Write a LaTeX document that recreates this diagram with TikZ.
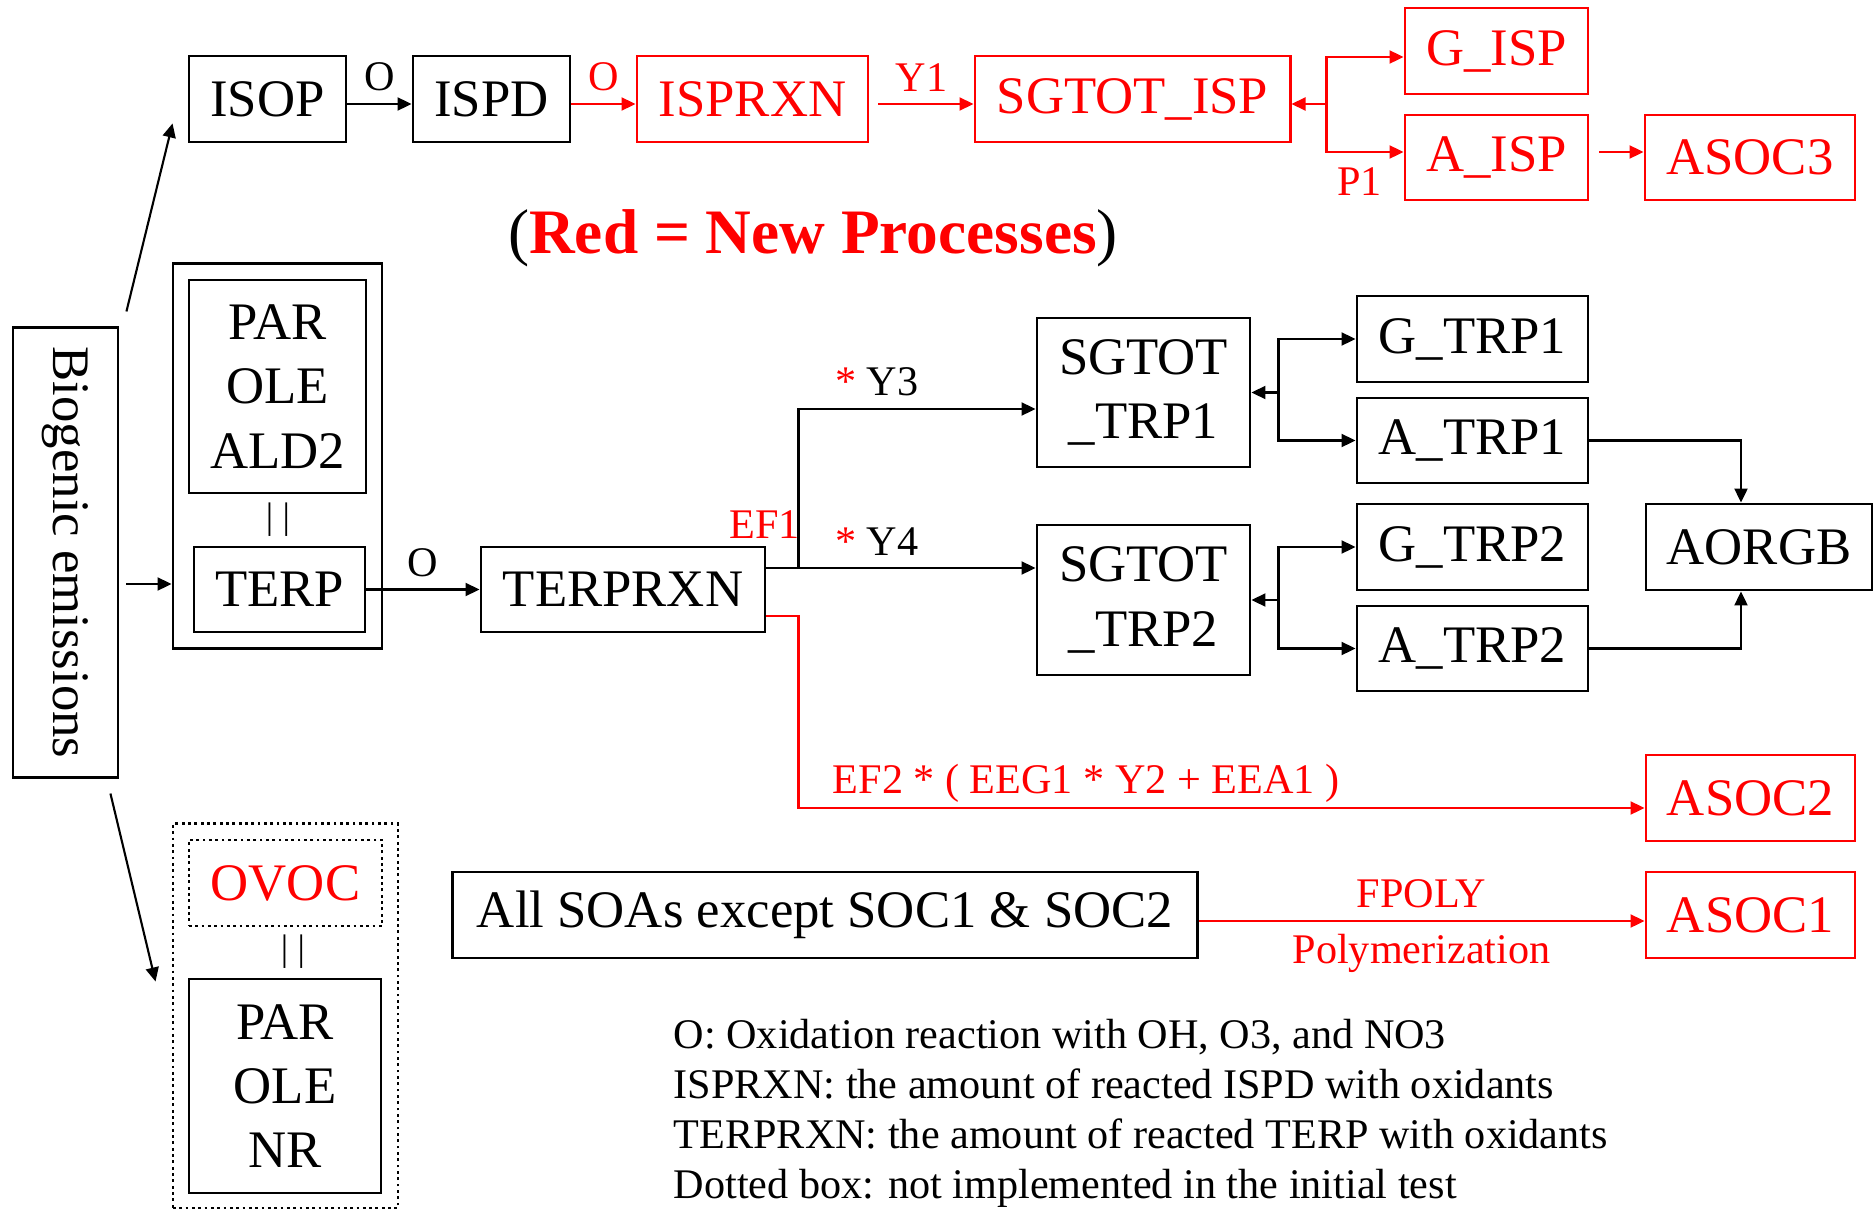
\documentclass[tikz,border=0pt]{standalone}
\usepackage{fontspec}
\setmainfont{Liberation Serif}
\usepackage{tikz}
\usepackage{xcolor}
\usetikzlibrary{calc}
\usetikzlibrary{arrows.meta}

\begin{document}
\begin{tikzpicture}[x=0.01cm, y=-0.01cm]

\tikzset{
    box/.style = {
    draw, line width=0.8pt, inner sep=0pt,
    align=center, font=\fontsize{15}{18.3}\selectfont
    }
}

\tikzstyle{oldbox}=[box, black]
\tikzstyle{newbox}=[box, draw=red, text=red]
\tikzstyle{planbox}=[box, densely dotted]
\tikzstyle{link}=[-{Triangle[length=0.14cm, width=0.13cm]}, line width=0.6pt]
\tikzstyle{newlink}=[link, red]
\tikzstyle{lbl}=[font=\fontsize{12}{14}\selectfont]

\useasboundingbox (0,0) rectangle (1875,1209);

% isoprene row
\node (n-isop) [oldbox, minimum width=1.57cm, minimum height=0.86cm] at (267.5,99) {ISOP};
\node (n-ispd) [oldbox, minimum width=1.57cm, minimum height=0.86cm] at (491.5,99) {ISPD};
\node (n-isprxn) [newbox, minimum width=2.31cm, minimum height=0.86cm] at (752.5,99) {ISPRXN};
\node (n-sgisp) [newbox, minimum width=3.15cm, minimum height=0.86cm] at (1132.5,99) {SGTOT\_ISP};
\node (n-gisp) [newbox, minimum width=1.83cm, minimum height=0.86cm] at (1496.5,51) {G\_ISP};
\node (n-aisp) [newbox, minimum width=1.83cm, minimum height=0.85cm] at (1496.5,157.5) {A\_ISP};
\node (n-asoc3) [newbox, minimum width=2.10cm, minimum height=0.85cm] at (1750,157.5) {ASOC3};

\node (n-title) at (813,238) {\fontsize{18}{22}\selectfont (\textcolor{red}{\textbf{Red = New Processes}})};

% emissions and terpene
\node (n-bio) [oldbox, minimum width=1.05cm, minimum height=4.49cm] at (65.5,552.5) {\rotatebox{-90}{Biogenic emissions}};
\node (n-grpterp) [oldbox, minimum width=2.09cm, minimum height=3.84cm] at (277.5,456) {};
\node (n-parole) [oldbox, minimum width=1.77cm, minimum height=2.13cm] at (277.5,386.5) {PAR\\OLE\\ALD2};
\node (n-eqterp) [font=\fontsize{10.5}{12}\selectfont] at (278,520) {| |};
\node (n-terp) [oldbox, minimum width=1.71cm, minimum height=0.85cm] at (279.5,589.5) {TERP};
\node (n-terprxn) [oldbox, minimum width=2.84cm, minimum height=0.85cm] at (623,589.5) {TERPRXN};

\node (n-sgtrp1) [oldbox, minimum width=2.13cm, minimum height=1.49cm] at (1143.5,392.5) {SGTOT\\\_TRP1};
\node (n-sgtrp2) [oldbox, minimum width=2.13cm, minimum height=1.50cm] at (1143.5,600) {SGTOT\\\_TRP2};
\node (n-gtrp1) [oldbox, minimum width=2.31cm, minimum height=0.86cm] at (1472.5,339) {G\_TRP1};
\node (n-atrp1) [oldbox, minimum width=2.31cm, minimum height=0.85cm] at (1472.5,440.5) {A\_TRP1};
\node (n-gtrp2) [oldbox, minimum width=2.31cm, minimum height=0.86cm] at (1472.5,547) {G\_TRP2};
\node (n-atrp2) [oldbox, minimum width=2.31cm, minimum height=0.85cm] at (1472.5,648.5) {A\_TRP2};
\node (n-aorgb) [oldbox, minimum width=2.26cm, minimum height=0.86cm] at (1759,547) {AORGB};
\node (n-asoc2) [newbox, minimum width=2.09cm, minimum height=0.86cm] at (1750.5,798) {ASOC2};

% ovoc (not yet)
\node (n-grpovoc) [planbox, minimum width=2.25cm, minimum height=3.84cm] at (285.5,1016) {};
\node (n-ovoc) [planbox, text=red, minimum width=1.93cm, minimum height=0.86cm] at (285.5,883) {OVOC};
\node (n-eqovoc) [font=\fontsize{10.5}{12}\selectfont] at (293,952) {| |};
\node (n-parnr) [oldbox, minimum width=1.92cm, minimum height=2.14cm] at (285,1086) {PAR\\OLE\\NR};

\node (n-allsoa) [oldbox, minimum width=7.44cm, minimum height=0.86cm] at (825,915) {All SOAs except SOC1 \& SOC2};
\node (n-asoc1) [newbox, minimum width=2.09cm, minimum height=0.86cm] at (1750.5,915) {ASOC1};

\node (n-legend) [anchor=north west, inner sep=0pt, align=left, font=\fontsize{12}{14.2}\selectfont] at (673,1019) {O: Oxidation reaction with OH, O3, and NO3\\ISPRXN: the amount of reacted ISPD with oxidants\\TERPRXN: the amount of reacted TERP with oxidants\\Dotted box: not implemented in the initial test};

\coordinate (c-jisp) at ($(n-sgisp.east)+(35,5)$);
\coordinate (c-bio) at ($(n-bio.east)+(7,31.5)$);
\coordinate (c-split) at ($(n-terprxn.east)+(32,-21.5)$);
\coordinate (c-y3) at ($(n-sgtrp1.west)+(0,16.5)$);
\coordinate (c-ef2) at ($(c-split)+(0,240)$);
\coordinate (c-jtrp1) at ($(n-sgtrp1.east)+(27,0)$);
\coordinate (c-jtrp2) at ($(n-sgtrp2.east)+(27,0)$);

\draw[link] ($(n-isop.east)+(0,5)$) -- node[lbl, above] {O} ($(n-ispd.west)+(0,5)$);
\draw[newlink] ($(n-ispd.east)+(0,5)$) -- node[lbl, above] {O} ($(n-isprxn.west)+(0,5)$);
\draw[newlink, shorten <=0.09cm] ($(n-isprxn.east)+(0,5)$) -- node[lbl, above] {Y1} ($(n-sgisp.west)+(0,5)$);
\draw[newlink] (c-jisp) -- (c-jisp -| n-sgisp.east);
\draw[newlink] (c-jisp) |- ($(n-gisp.west)+(0,6)$);
\draw[newlink] (c-jisp) |- ($(n-aisp.west)+(0,-5.5)$);
\node (n-p1) [lbl, red] at ($(n-aisp.west)+(-44,24.5)$) {P1};
\draw[newlink, shorten <=0.1cm] ($(n-aisp.east)+(0,-5.5)$) -- ($(n-asoc3.west)+(0,-5.5)$);

\draw[link] ($(n-bio.north east)+(7,-15)$) -- ($(n-isop.south west)+(-15,-20)$);
\draw[link] (c-bio) -- (c-bio -| n-grpterp.west);
\draw[link] ($(n-bio.south east)+(-9,15)$) -- ($(n-grpovoc.north west)+(-16,159)$);

\draw[link] (n-terp) -- node[lbl, above] {O} (n-terprxn);
\draw[link] (n-terprxn.east |- c-split) -- (c-split) -- node[lbl, above, pos=0.33] {\textcolor{red}{*} Y4} (c-split -| n-sgtrp2.west);
\draw[link] (c-split) -- (c-split |- c-y3) -- node[lbl, above, pos=0.33] {\textcolor{red}{*} Y3} (c-y3);
\node (n-ef1) [lbl, red] at ($(c-split)+(-34,-43)$) {EF1};
\draw[newlink] ($(n-terprxn.east)+(0,26.5)$) -| (c-ef2) -- node[lbl, above, pos=0.34, yshift=-0.07cm] {EF2 * ( EEG1 * Y2 + EEA1 )} (c-ef2 -| n-asoc2.west);

\draw[link] (c-jtrp1) -- (n-sgtrp1.east);
\draw[link] (c-jtrp1) |- (n-gtrp1.west);
\draw[link] (c-jtrp1) |- (n-atrp1.west);
\draw[link] (c-jtrp2) -- (n-sgtrp2.east);
\draw[link] (c-jtrp2) |- (n-gtrp2.west);
\draw[link] (c-jtrp2) |- (n-atrp2.west);
\draw[link] (n-atrp1.east) -| ($(n-aorgb.north)+(-18,0)$);
\draw[link] (n-atrp2.east) -| ($(n-aorgb.south)+(-18,0)$);

\draw[newlink] ($(n-allsoa.east)+(0,6)$) -- node[lbl, above] {FPOLY} node[lbl, below] {Polymerization} ($(n-asoc1.west)+(0,6)$);

\end{tikzpicture}
\end{document}
